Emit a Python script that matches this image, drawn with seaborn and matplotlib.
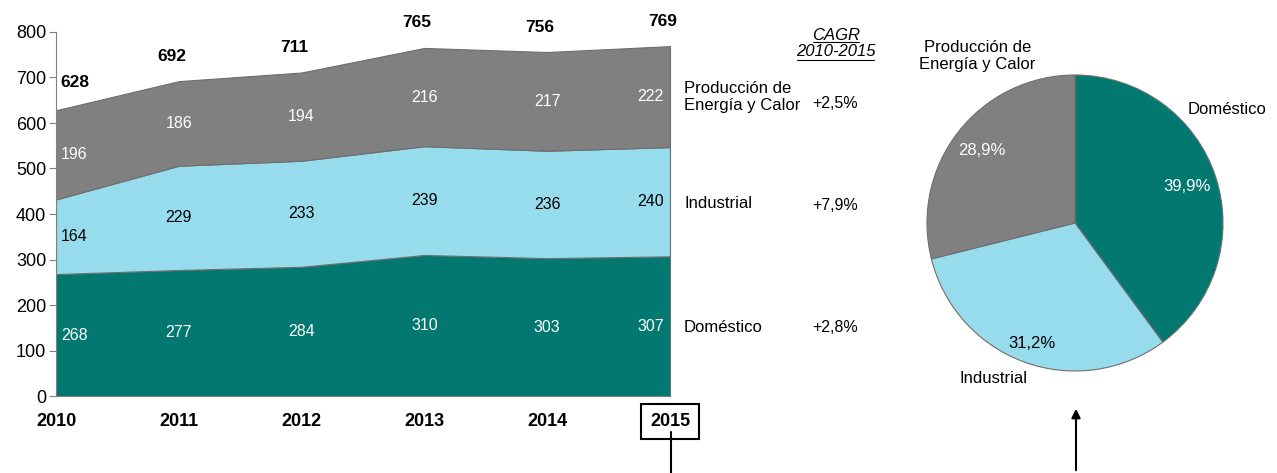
import matplotlib
matplotlib.use("Agg")
import matplotlib.pyplot as plt
from matplotlib.patches import FancyArrowPatch
import numpy as np
import pandas as pd
import seaborn as sns

YEARS = [2010, 2011, 2012, 2013, 2014, 2015]
DOMESTICO = [268, 277, 284, 310, 303, 307]
INDUSTRIAL = [164, 229, 233, 239, 236, 240]
PRODUCCION = [196, 186, 194, 216, 217, 222]
TOTALS = [628, 692, 711, 765, 756, 769]

SERIES_NAMES = ["Doméstico", "Industrial", "Producción de\nEnergía y Calor"]
CAGR = ["+2,8%", "+7,9%", "+2,5%"]
PIE_SHARES = [39.9, 31.2, 28.9]
PIE_LABELS = ["Doméstico", "Industrial", "Producción de\nEnergía y Calor"]

COLORS = ["#027870", "#97dcec", "#808080"]
EDGE = "#6e6e6e"

sns.set_theme(style="white")
plt.rcParams["font.family"] = ["Liberation Sans", "DejaVu Sans"]
plt.rcParams["text.color"] = "black"
plt.rcParams["xtick.labelcolor"] = "black"
plt.rcParams["ytick.labelcolor"] = "black"

df = pd.DataFrame(
    {"year": YEARS, "Doméstico": DOMESTICO, "Industrial": INDUSTRIAL, "Producción": PRODUCCION}
)

W, H = 1277, 473
fig = plt.figure(figsize=(W / 100, H / 100), dpi=100)


def fy(py):
    # pixel row -> figure fraction
    return 1 - py / H


# ---- stacked area
ax = fig.add_axes([56 / W, fy(396), (670 - 56) / W, (396 - 32) / H])
cols = ["Doméstico", "Industrial", "Producción"]
ax.stackplot(df["year"], *[df[c] for c in cols], colors=COLORS, edgecolor=EDGE, linewidth=0.8)
ax.set_xlim(2010, 2015)
ax.set_ylim(0, 800)
ax.set_yticks(range(0, 801, 100))
ax.set_xticks(YEARS)
ax.tick_params(axis="y", left=True, length=5, width=0.8, color="#808080", labelsize=13, pad=2)
ax.tick_params(axis="x", bottom=False, labelsize=13, pad=6)
for lab in ax.get_xticklabels():
    lab.set_fontweight("bold")
sns.despine(ax=ax, top=True, right=True)
for s in ["left", "bottom"]:
    ax.spines[s].set_color("#808080")
    ax.spines[s].set_linewidth(0.8)
ax.plot([2015, 2015], [0, TOTALS[-1]], color=EDGE, lw=0.8, clip_on=False)

last = ax.get_xticklabels()[-1]
last.set_bbox(dict(boxstyle="square,pad=0.5", facecolor="white", edgecolor="black", linewidth=1.5))

# segment values
xpos = np.array(YEARS, dtype=float)
xpos[0] += 0.15
xpos[-1] -= 0.16
bottom = np.zeros(len(YEARS))
text_colors = ["white", "black", "white"]
for c, tc in zip(cols, text_colors):
    vals = df[c].to_numpy()
    for x, b, v in zip(xpos, bottom, vals):
        ax.text(x, b + v / 2, str(v), ha="center", va="center", color=tc, fontsize=11.5)
    bottom = bottom + vals

# totals
tx = np.array(YEARS, dtype=float) - 0.06
tx[0] = YEARS[0] + 0.15
for i, (x, t) in enumerate(zip(tx, TOTALS)):
    ax.annotate(str(t), (x, t), xytext=(0, 20 if i == 0 else 18), textcoords="offset points",
                ha="center", va="center", fontsize=12.5, fontweight="bold",
                annotation_clip=False)

# right labels + CAGR
label_rows = [327, 203, 97]
cagr_rows = [327, 205, 103]
for name, cg, ly, cy_ in zip(SERIES_NAMES, CAGR, label_rows, cagr_rows):
    fig.text(684 / W, fy(ly), name, ha="left", va="center", fontsize=12)
    fig.text(835 / W, fy(cy_), cg, ha="center", va="center", fontsize=11.5)
fig.text(836 / W, fy(35), "CAGR", ha="center", va="center", fontsize=12, style="italic")
fig.text(836 / W, fy(52), "2010-2015", ha="center", va="center", fontsize=12, style="italic")
fig.add_artist(plt.Line2D([813 / W, 859 / W], [fy(42), fy(42)], color="black", lw=0.8))
fig.add_artist(plt.Line2D([797 / W, 874 / W], [fy(60), fy(60)], color="black", lw=0.8))

# ---- pie
cx, cy, r = 1075, 223, 148
pax = fig.add_axes([(cx - r) / W, fy(cy + r), 2 * r / W, 2 * r / H])
wedges, _, autotexts = pax.pie(
    PIE_SHARES, colors=COLORS, startangle=90, counterclock=False,
    autopct=lambda p: f"{p:.1f}%".replace(".", ","), pctdistance=0.8,
    wedgeprops=dict(edgecolor=EDGE, linewidth=0.8), textprops=dict(fontsize=12),
)
for at, tc in zip(autotexts, text_colors):
    at.set_color(tc)
autotexts[1].set_position(np.array(autotexts[1].get_position()) * 1.08)
pax.set_xlim(-1, 1)
pax.set_ylim(-1, 1)

pie_label_pos = [(1.03, 0.77), (-0.55, -1.05), (-0.66, 1.13)]
for lab, (x, y) in zip(PIE_LABELS, pie_label_pos):
    pax.text(x, y, lab, ha="center", va="center", fontsize=12)

# connectors
fig.add_artist(plt.Line2D([671 / W, 671 / W], [fy(432), 0], color="black", lw=1.5))
fig.add_artist(FancyArrowPatch(
    (1076 / W, 0), (1076 / W, fy(406)), transform=fig.transFigure,
    arrowstyle="-|>", mutation_scale=13, color="black", lw=1.5))

fig.savefig("out.png", dpi=100)
